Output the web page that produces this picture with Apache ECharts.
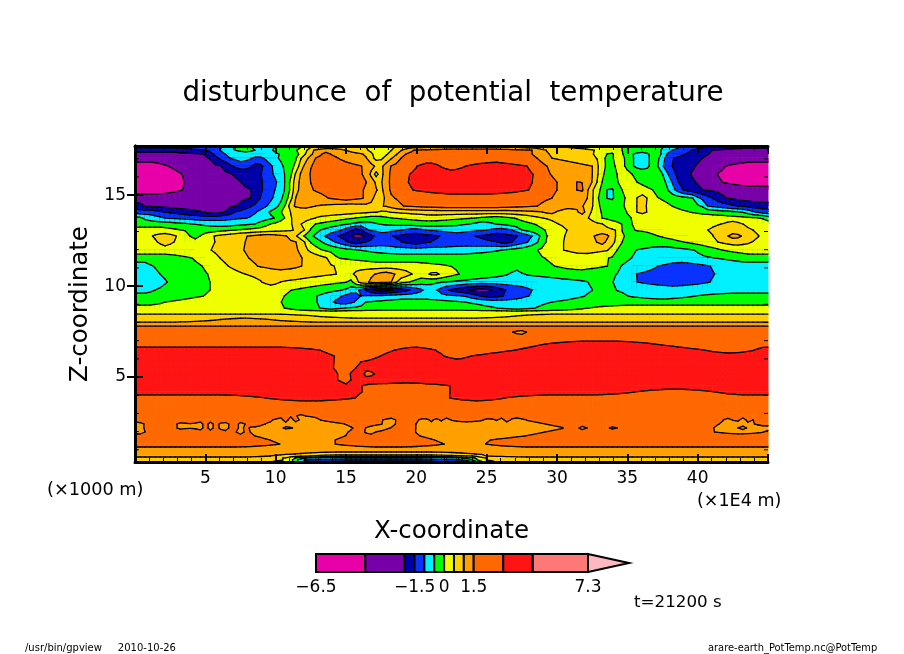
<!DOCTYPE html>
<html>
<head>
<meta charset="utf-8">
<title>disturbunce of potential temperature</title>
<script src="https://cdn.jsdelivr.net/npm/echarts@6/dist/echarts.min.js"></script>
<style>
  html, body { margin: 0; background: #fff; }
  #chart { width: 904px; height: 654px; }
</style>
</head>
<body>
<div id="chart"></div>
<script>
const FONT = 'DejaVu Sans';

// contour limits (K) and the colour of each band between them
const levelLimits = [-6.5, -4, -2, -1.5, -1, -0.5, 0, 0.5, 1, 1.5, 3, 4.5, 7.3];
const levelTip = 9.38;
const bandColors = ['#e800a8', '#7800a8', '#0000a8', '#0a32ff', '#00f0ff', '#00ff00', '#f0ff00',
  '#ffd000', '#ffa000', '#ff6800', '#ff1414', '#ff7878', '#ffb8c0'];
const legendLabels = [-6.5, -1.5, 0, 1.5, 7.3];

const xTicksMajor = 5;
const zTicksMajor = [5, 10, 15];
const zTicksMinor = [1, 2, 3, 4, 6, 7, 8, 9, 11, 12, 13, 14, 16, 17];

// heights of the rows (x1000 m), top to bottom
const rowZ = [17.7, 17.47, 17.25, 17.03, 16.59, 16.15, 15.71, 15.28, 14.84, 14.4, 14.07, 13.74, 13.41, 13.08,
  12.75, 12.42, 11.98, 11.54, 11.1, 10.66, 10.22, 9.78, 9.45, 9.12, 8.79, 8.57, 8.35, 8.13, 7.91, 7.69, 7.47,
  7.14, 6.81, 6.48, 6.15, 5.82, 5.49, 5.17, 4.84, 4.51, 4.18, 3.85, 3.52, 3.19, 2.86, 2.64, 2.42, 2.2, 1.98,
  1.76, 1.54, 1.32, 0.99, 0.77, 0.66, 0.55, 0.44, 0.33];

// one entry per row: "band>column" runs, band in hex, column where the band stops (a column is 1/63.3 of the width)
const rowRuns = [
  '3>9 4>10 5>11.5 4>14 5>17 6>18 7>23 6>26 7>41 6>48.7 5>53 4>55 3>58 2>64',
  '2>7.3 3>8.5 4>10 5>12 4>13.7 5>17 7>17.7 8>21 7>23.3 6>25.7 7>26.7 8>27.7 9>39.7 8>41 7>46 6>48.7 5>52.7 4>53.7 3>55.7 2>57.7 1>64',
  '1>7 2>7.8 3>9 4>14.5 5>16.5 6>17 7>17.7 8>18.7 9>19.5 8>23 7>23.7 6>25.3 7>26.2 8>26.8 9>39.8 8>41.3 7>46 6>47.2 5>47.8 6>48.8 5>49.8 4>51.4 5>52.7 4>53 3>55 2>57.3 1>64',
  '1>7.5 2>8.3 3>9.5 4>11.8 3>12.8 4>14.3 5>16.3 6>16.6 7>17.3 8>18 9>20.3 8>23.3 7>23.8 6>24.8 7>25.7 8>26.5 9>40.3 8>41.7 7>46.2 6>47 5>47.8 6>49 5>49.8 4>51.5 5>52.5 4>52.9 3>53.8 2>56.7 1>64',
  '0>3.3 1>8.8 2>9.7 3>11.7 2>12.8 3>13.7 4>14.8 5>16 6>16.3 7>16.8 8>17.6 9>22.8 8>24 7>24.8 8>25.5 9>28.2 a>30.5 9>33 a>39.2 9>41.2 8>45.8 7>46.3 6>47 5>48 6>49 5>49.8 4>51.5 5>52.3 4>52.8 3>53.7 2>56 1>59 0>64',
  '0>4.7 1>9.8 2>12.7 3>13.8 4>15 5>15.7 6>16 7>16.5 8>17.3 9>23 8>23.5 7>24 6>24.3 7>24.8 8>25.3 9>27.3 a>40 9>41.4 8>45.8 7>46.3 6>46.8 5>48.2 6>49.7 5>52.8 4>53.3 3>54 2>55.5 1>58.2 0>64',
  '0>4.9 1>10.7 2>12.8 3>14.2 4>15 5>15.5 6>15.8 7>16.3 8>17.5 9>23.2 8>24 7>24.7 8>25.3 9>27.2 a>39.8 9>42.2 8>44.2 9>44.7 8>45.7 7>46.2 6>46.7 5>48.3 6>50.2 5>53.2 4>53.7 3>54.3 2>56 1>58.7 0>64',
  '0>4.7 1>11.8 2>12.7 3>14 4>15 5>15.5 6>15.8 7>16.2 8>17.7 9>23 8>24.2 7>24.8 8>25.3 9>27.7 a>39.5 9>42.2 8>44.2 9>44.8 8>45.3 7>45.8 6>46.5 5>47.2 4>47.8 5>48.7 6>51.8 5>53.3 4>54 3>54.8 2>56.8 1>64',
  '1>11.7 2>12.5 3>13.8 4>14.8 5>15.3 6>15.7 7>16 8>19.3 9>23 8>23.8 7>25 8>25.7 9>41.7 8>45.3 7>45.8 6>46.3 5>47.2 4>47.8 5>49 6>50.2 7>51.2 6>52.3 5>55.8 4>56.4 3>57.7 2>59 1>64',
  '2>0.7 1>10.3 2>11.7 3>13.2 4>14.4 5>15 6>15.4 7>15.7 8>18 7>25 8>26.7 9>40.3 8>45 7>45.8 6>46.3 5>49 6>50.2 7>51 6>53.7 5>56.7 4>57.2 3>60.3 2>64',
  '3>3 2>6.8 1>9 2>10 3>12.2 4>13.4 5>14.7 6>15.4 7>24.5 6>25.2 7>41 8>42 7>44.5 8>44.9 7>45.6 6>46.5 5>49.2 6>50.2 7>51 6>55.5 5>60.7 4>62 3>64',
  '5>0.6 4>3 3>11.3 4>14 5>15 6>15.6 7>18 6>22 5>25.7 6>34 5>38 6>40.8 7>45.5 6>46.7 5>49.5 6>62.7 5>64',
  '5>5.8 4>12 5>13.5 6>15.8 7>16.6 6>18 5>21.3 4>24.3 5>33.5 4>36 5>40 6>42.3 7>46.8 6>48.7 5>49.7 6>58.7 7>60.8 6>64',
  '6>4.7 5>10 6>16 7>17 6>17.5 5>18.5 4>20.7 3>21.7 2>22.7 3>23.2 4>26.7 3>29 4>35.3 3>37.8 4>38.7 5>41 6>43.2 7>48.2 6>48.7 5>49.8 6>57.3 7>61.8 6>64',
  '6>1.7 7>4.2 6>5.5 5>6.5 6>7.8 7>11.2 8>15.3 7>16.2 6>16.8 5>17.8 4>19 3>20.3 2>21.7 1>23 2>23.8 3>25.7 2>30.5 3>34 2>38.3 3>39.7 4>40.5 5>41.2 6>42.9 7>46 8>47.5 7>48 6>48.8 5>52.3 6>57.9 7>59.3 8>60.6 7>62.4 6>64',
  '6>2.3 7>3.8 6>8 7>11 8>16.2 7>17 6>17.5 5>18.7 4>20 3>21.3 2>23 3>26.7 2>29.5 3>36.3 2>37.7 3>39.3 4>40.3 5>41 6>42.8 7>46.2 8>47 7>48 6>48.7 5>55 6>58.3 7>61.7 6>64',
  '6>7.7 7>10.8 8>16.5 7>17.2 6>18.7 5>22.3 4>36.7 5>40.3 6>42.8 7>47.5 6>48.2 5>50 4>56 5>58.7 6>64',
  '5>5.8 6>8.5 7>11.3 8>16.8 7>19.3 6>20.2 5>41 6>47.5 5>49.5 4>58 5>64',
  '4>1.7 5>6.8 6>9.3 7>12.2 8>16.7 7>19.8 6>31.5 5>42 6>47.3 5>48.5 4>52.3 3>57.5 4>64',
  '4>2.5 5>7.3 6>11 7>20.2 6>21.8 7>24 8>26 7>27.7 6>29.5 7>30.3 6>32.3 5>37.5 4>38.8 5>48.2 4>50 3>58 4>64',
  '4>3.2 5>7.5 6>12.8 7>14.5 6>21.3 5>22.2 8>25.7 7>26.3 5>30.8 4>45.4 5>47.8 4>50.2 3>57.5 4>64',
  '4>2 5>7.5 6>15.7 5>20.8 4>22.5 3>23 2>23.8 1>25.8 2>27.5 3>28.8 4>30.2 3>31.3 2>33.3 1>35.8 2>37 3>39.7 4>45.8 5>48 4>64',
  '5>6.8 6>15 5>18.2 4>20.7 3>22.5 4>33 3>34.5 2>36.8 3>39.3 4>45 5>49.3 4>56 5>64',
  '5>3 6>14.7 5>18.3 4>19.8 3>22 4>23 5>33 4>41.7 5>64',
  '6>15 5>18.5 4>20.8 5>36.3 4>40 5>45.3 6>64',
  '6>64',
  '7>18 6>38 7>64',
  '7>8 8>14 7>64',
  '8>64',
  '9>64',
  '9>38 8>39 9>64',
  '9>64',
  '9>41 a>52 9>64',
  'a>18.5 9>26 a>30 9>38 a>57 9>62 a>64',
  'a>20 9>24.5 a>31 9>33.5 a>64',
  'a>20 9>22.5 a>64',
  'a>20 9>22 a>64',
  'a>20.5 9>21.5 a>23 9>23.7 a>64',
  'a>20.5 9>21.5 a>64',
  'a>22.7 9>31.5 a>64',
  'a>22.7 9>31.5 a>50 9>58 a>64',
  '9>13 a>22 9>31.5 a>37 9>64',
  '9>64',
  '9>64',
  '9>16.5 8>17 9>64',
  '9>14 8>14.8 9>15.2 8>15.8 9>16.2 8>18.5 9>25 8>26 9>28.5 8>29.3 9>29.7 8>30.3 9>30.7 8>31.5 9>35 8>35.8 9>36.2 8>37 9>37.4 8>39 9>59 8>59.4 9>59.8 8>60.2 9>60.6 8>61 9>61.4 8>61.8 9>64',
  '8>0.7 9>4.4 8>5.1 9>5.5 8>6.1 9>6.3 8>6.8 9>7.3 8>7.9 9>8.1 8>8.6 9>8.9 8>9.4 9>10.4 8>11 9>13 8>21 9>24.8 8>26 9>28 8>41 9>58.5 8>62 9>64',
  '8>0.7 9>4.4 8>5.1 9>5.5 8>6.1 9>6.3 8>6.8 9>7.3 8>7.9 9>8.1 8>8.6 9>8.9 8>9.4 9>10.4 8>11 9>11.3 8>15 9>15.6 8>22 9>23 8>25.5 9>28 8>43 9>44.5 8>45.2 9>47.6 8>48.2 9>58 8>60.3 9>61 8>64',
  '8>1 9>10.4 8>11 9>11.5 8>21.5 9>23 8>24 9>28 8>41 9>58 8>63 9>64',
  '9>12 8>21 9>28.5 8>39 9>64',
  '9>13.5 8>20 9>30 8>35.5 9>64',
  '9>14.5 8>20 9>31 8>35 9>64',
  '8>64',
  '8>16 7>34 8>64',
  '8>15.5 6>34 7>35 8>64',
  '7>15 6>16 5>17 4>33 5>34 6>35 7>64',
  '7>15 6>16 4>17 3>33 4>34 6>35 7>64',
  '7>15.5 5>16.5 3>17 2>33.5 4>34.5 6>36 7>64'
];

const COLUMN_SPAN = 63.3;
const X_MAX = 45;
const STEPS = 126;
const RAMP = 4;

// knots of one row: the contour between two bands falls exactly where the run stops
function rowKnots(runs) {
  const knots = [];
  let start = 0, prev = null;
  runs.split(' ').forEach((run, i, all) => {
    const [band, stop] = run.split('>');
    const level = parseInt(band, 16);
    const end = Number(stop);
    const ramp = Math.min((end - start) / 2, RAMP);
    if (prev === null) {
      knots.push([0, level]);
    } else {
      knots.push([start, (prev + level) / 2], [start + ramp, level]);
    }
    if (i < all.length - 1) knots.push([end - ramp, level]);
    else knots.push([end, level]);
    start = end;
    prev = level;
  });
  return knots;
}

function levelAt(knots, col) {
  for (let k = 1; k < knots.length; k++) {
    if (col <= knots[k][0]) {
      const [c0, v0] = knots[k - 1], [c1, v1] = knots[k];
      return c1 === c0 ? v1 : v0 + (v1 - v0) * (col - c0) / (c1 - c0);
    }
  }
  return knots[knots.length - 1][1];
}

const rowField = rowRuns.map((runs) => {
  const knots = rowKnots(runs);
  const row = [];
  for (let i = 0; i <= STEPS; i++) row.push(levelAt(knots, i * COLUMN_SPAN / STEPS));
  return row;
});

// one item per grid cell: x0, x1, zTop, zBottom, then the four corner levels
const cells = [];
for (let r = 0; r < rowZ.length - 1; r++) {
  for (let c = 0; c < STEPS; c++) {
    cells.push([
      c * X_MAX / STEPS, (c + 1) * X_MAX / STEPS, rowZ[r], rowZ[r + 1],
      rowField[r][c], rowField[r][c + 1], rowField[r + 1][c + 1], rowField[r + 1][c]
    ]);
  }
}

function cellCorners(api) {
  const x0 = api.value(0), x1 = api.value(1), zt = api.value(2), zb = api.value(3);
  return {
    pts: [api.coord([x0, zt]), api.coord([x1, zt]), api.coord([x1, zb]), api.coord([x0, zb])],
    vals: [api.value(4), api.value(5), api.value(6), api.value(7)]
  };
}

function crossing(a, b, va, vb, cut) {
  const t = (cut - va) / (vb - va);
  return [a[0] + (b[0] - a[0]) * t, a[1] + (b[1] - a[1]) * t];
}

// part of the cell where the level is at least cut
function clipCell(pts, vals, cut) {
  const out = [];
  for (let i = 0; i < 4; i++) {
    const j = (i + 1) % 4;
    if (vals[i] >= cut) out.push(pts[i]);
    if ((vals[i] >= cut) !== (vals[j] >= cut)) out.push(crossing(pts[i], pts[j], vals[i], vals[j], cut));
  }
  return out;
}

function renderFill(params, api) {
  const { pts, vals } = cellCorners(api);
  const lo = Math.floor(Math.min(...vals) + 0.5), hi = Math.floor(Math.max(...vals) + 0.5);
  const children = [];
  for (let band = lo; band <= hi; band++) {
    const poly = band === lo ? pts : clipCell(pts, vals, band - 0.5);
    children.push({
      type: 'polygon',
      shape: { points: poly },
      style: { fill: bandColors[band], stroke: bandColors[band], lineWidth: 1 }
    });
  }
  return { type: 'group', children };
}

function renderContour(params, api) {
  const { pts, vals } = cellCorners(api);
  const lo = Math.floor(Math.min(...vals) + 0.5), hi = Math.floor(Math.max(...vals) + 0.5);
  const children = [];
  for (let band = lo + 1; band <= hi; band++) {
    const cut = band - 0.5, hits = [];
    for (let i = 0; i < 4; i++) {
      const j = (i + 1) % 4;
      if ((vals[i] >= cut) !== (vals[j] >= cut)) hits.push(crossing(pts[i], pts[j], vals[i], vals[j], cut));
    }
    for (let k = 0; k + 1 < hits.length; k += 2) {
      children.push({
        type: 'line',
        shape: { x1: hits[k][0], y1: hits[k][1], x2: hits[k + 1][0], y2: hits[k + 1][1] },
        style: { stroke: '#000', lineWidth: 1.3, lineCap: 'round' }
      });
    }
  }
  return { type: 'group', children };
}

function renderMinorTick(params, api) {
  const left = api.coord([0, api.value(0)]);
  const right = api.coord([X_MAX, api.value(0)]);
  const style = { stroke: '#000', lineWidth: 1 };
  return {
    type: 'group',
    children: [
      { type: 'line', shape: { x1: left[0], y1: left[1], x2: left[0] + 4, y2: left[1] }, style },
      { type: 'line', shape: { x1: right[0], y1: right[1], x2: right[0] - 4, y2: right[1] }, style }
    ]
  };
}

// colour bar: one rectangle per band, the last one is the arrow head
function renderLegendBand(params, api) {
  const from = api.coord([api.value(0), 0]);
  const to = api.coord([api.value(1), 1]);
  const band = api.value(2);
  const style = { fill: bandColors[band], stroke: '#000', lineWidth: 2 };
  if (band === bandColors.length - 1) {
    return {
      type: 'polygon',
      shape: { points: [[from[0], from[1]], [from[0], to[1]], [to[0], (from[1] + to[1]) / 2]] },
      style
    };
  }
  return {
    type: 'rect',
    shape: { x: from[0], y: to[1], width: to[0] - from[0], height: from[1] - to[1] },
    style
  };
}

const legendData = bandColors.map((_, k) => [levelLimits[k], k + 1 < levelLimits.length ? levelLimits[k + 1] : levelTip, k]);

const labelStyle = { color: '#000', fontFamily: FONT, fontSize: 17 };

function plainText(text, x, y, fontSize, align) {
  return {
    type: 'text', x, y, silent: true,
    style: { text, fontFamily: FONT, fontSize, fill: '#000', textAlign: align || 'left', textVerticalAlign: 'middle' }
  };
}

const chart = echarts.init(document.getElementById('chart'), null, { renderer: 'canvas' });

chart.setOption({
  animation: false,
  backgroundColor: '#fff',
  title: {
    text: 'disturbunce  of  potential  temperature',
    left: 448,
    top: 75,
    textAlign: 'center',
    textStyle: { color: '#000', fontFamily: FONT, fontSize: 27.7, fontWeight: 'normal' }
  },
  grid: [
    { left: 135, top: 146, width: 633, height: 316 },
    { left: 316, top: 554, width: 313, height: 18 }
  ],
  xAxis: [
    {
      type: 'value', gridIndex: 0, position: 'bottom', min: 0, max: X_MAX, interval: xTicksMajor, z: 10,
      name: 'X-coordinate', nameLocation: 'middle', nameGap: 57,
      nameTextStyle: { color: '#000', fontFamily: FONT, fontSize: 24.5 },
      axisLine: { lineStyle: { color: '#000', width: 3 } },
      axisTick: { inside: true, length: 8, lineStyle: { color: '#000', width: 2 } },
      minorTick: { show: true, splitNumber: 5, length: 4, lineStyle: { color: '#000', width: 1 } },
      axisLabel: {
        ...labelStyle, margin: 8,
        formatter: (v) => (v === 0 || v === X_MAX ? '' : String(v))
      },
      splitLine: { show: false }
    },
    {
      type: 'value', gridIndex: 0, position: 'top', min: 0, max: X_MAX, interval: xTicksMajor, z: 10,
      axisLine: { lineStyle: { color: '#000', width: 3 } },
      axisTick: { inside: true, length: 8, lineStyle: { color: '#000', width: 2 } },
      minorTick: { show: true, splitNumber: 5, length: 4, lineStyle: { color: '#000', width: 1 } },
      axisLabel: { show: false },
      splitLine: { show: false }
    },
    {
      type: 'value', gridIndex: 1, min: levelLimits[0], max: levelTip,
      axisLine: { show: false },
      axisTick: { show: false },
      axisLabel: {
        ...labelStyle, margin: 7,
        customValues: legendLabels,
        formatter: (v) => (v < 0 ? '\u2212' + Math.abs(v) : String(v))
      },
      splitLine: { show: false }
    }
  ],
  yAxis: [
    {
      type: 'value', gridIndex: 0, position: 'left', min: rowZ[rowZ.length - 1], max: rowZ[0], z: 10,
      name: 'Z-coordinate', nameLocation: 'middle', nameGap: 38, nameRotate: 90,
      nameTextStyle: { color: '#000', fontFamily: FONT, fontSize: 24.5 },
      axisLine: { lineStyle: { color: '#000', width: 3 } },
      axisTick: { inside: true, length: 8, customValues: zTicksMajor, lineStyle: { color: '#000', width: 2 } },
      axisLabel: { ...labelStyle, margin: 9, customValues: zTicksMajor },
      splitLine: { show: false }
    },
    {
      type: 'value', gridIndex: 0, position: 'right', min: rowZ[rowZ.length - 1], max: rowZ[0], z: 10,
      axisLine: { lineStyle: { color: '#000', width: 3 } },
      axisTick: { inside: true, length: 8, customValues: zTicksMajor, lineStyle: { color: '#000', width: 2 } },
      axisLabel: { show: false },
      splitLine: { show: false }
    },
    { type: 'value', gridIndex: 1, min: 0, max: 1, show: false }
  ],
  series: [
    {
      type: 'custom', name: 'bands', xAxisIndex: 0, yAxisIndex: 0, z: 2, progressive: 0, silent: true,
      renderItem: renderFill, encode: { x: [0, 1], y: [2, 3] }, data: cells
    },
    {
      type: 'custom', name: 'contours', xAxisIndex: 0, yAxisIndex: 0, z: 3, progressive: 0, silent: true,
      renderItem: renderContour, encode: { x: [0, 1], y: [2, 3] }, data: cells
    },
    {
      type: 'custom', name: 'minor ticks', xAxisIndex: 0, yAxisIndex: 0, z: 4, silent: true, clip: false,
      renderItem: renderMinorTick, encode: { y: 0 }, data: zTicksMinor.map((z) => [z])
    },
    {
      type: 'custom', name: 'colour bar', xAxisIndex: 2, yAxisIndex: 2, z: 2, silent: true, clip: false,
      renderItem: renderLegendBand, encode: { x: [0, 1] }, data: legendData
    }
  ],
  graphic: [
    plainText('(\u00d71000 m)', 47, 490, 17.7),
    plainText('(\u00d71E4 m)', 697, 501, 17.5),
    plainText('t=21200 s', 634, 603, 16.7),
    plainText('/usr/bin/gpview     2010-10-26', 25, 648, 10),
    plainText('arare-earth_PotTemp.nc@PotTemp', 708, 648, 9.9)
  ]
});
</script>
</body>
</html>
